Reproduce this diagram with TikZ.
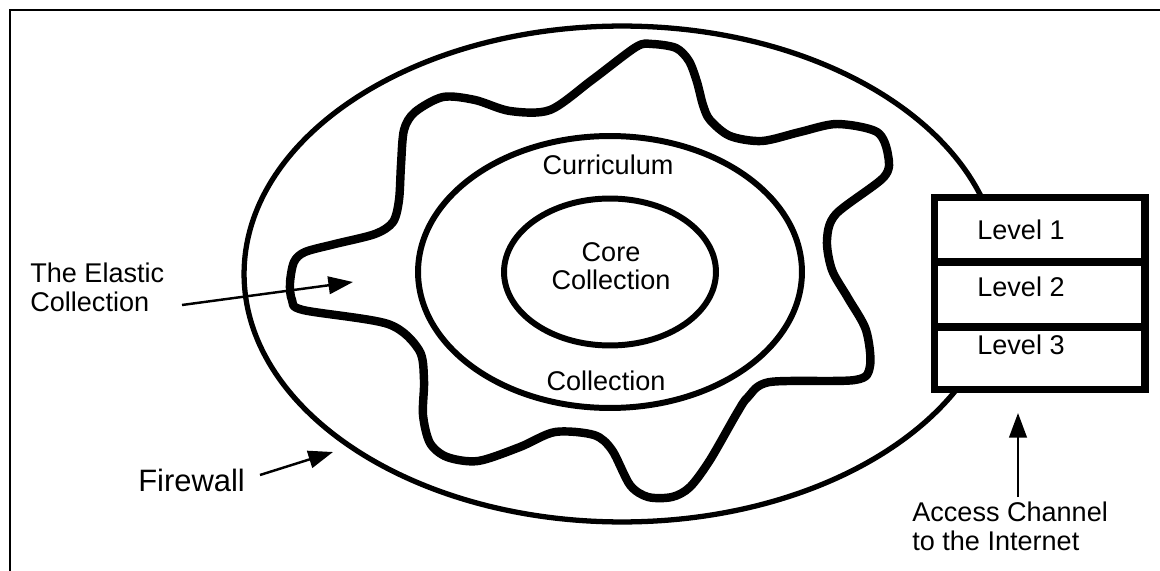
\documentclass[tikz,border=0pt]{standalone}
\usepackage{fontspec}
\setmainfont{Liberation Sans}
\usetikzlibrary{arrows.meta,shapes.geometric}
\tikzset{
  lbl/.style={font=\fontsize{15.4}{16}\selectfont, inner sep=0pt},
  ptr/.style={line width=1.4pt, -{Triangle[length=14pt,width=10pt]}},
  ring/.style={draw, ellipse, line width=3.4pt, inner sep=0pt},
  boxline/.style={line width=4pt},
}

\begin{document}
\begin{tikzpicture}[x=0.02cm, y=-0.02cm]
\useasboundingbox (0,0) rectangle (1160,571);
% frame
\draw[line width=1.2pt] (1160,10) -- (10,10) -- (10,571);

% firewall and collections
\node[ring, line width=3pt, minimum width=15.12cm, minimum height=9.92cm] (firewall) at (622,274) {};
\draw[line width=4.8pt, line join=round]
  plot[smooth cycle, tension=0.5] coordinates {
    (290,283) (294,262) (305,252) (335,244) (375,234) (393,222) (399,200)
    (401,165) (404,130) (415,112) (443,97) (475,100) (510,111) (550,110)
    (592,80) (636,47) (652,44) (676,48) (689,61) (697,82) (703,105)
    (710,120) (730,136) (762,141) (800,132) (837,124) (877,132) (888,155)
    (884,177) (836,214) (827,240) (832,270) (848,298) (866,330) (870,366)
    (855,380) (770,382) (748,397) (737,413) (710,460) (690,487) (672,497)
    (648,497) (630,485) (612,450) (594,435) (555,432) (520,447) (478,461)
    (447,457) (430,443) (423,415) (424,380) (419,350) (388,324) (303,310)
    (292,300)};
\node[ring, minimum width=7.68cm, minimum height=5.44cm] (curriculum) at (610,272) {};
\node[ring, minimum width=4.24cm, minimum height=2.94cm] (core) at (610,272) {};

\node[lbl, anchor=base] (curlabel) at (608,174) {Curriculum};
\node[lbl, anchor=base] (collabel) at (606,390) {Collection};
\node[lbl, align=center, anchor=north] (corelabel) at (611,242) {Core\\Collection};

% access levels
\node[draw, fill=white, boxline, minimum width=4.22cm, minimum height=3.86cm, inner sep=0pt] (access) at (1039.5,293.5) {};
\draw[boxline] (934,262) -- (1148,262);
\draw[boxline] (934,327) -- (1148,327);
\node[lbl, anchor=base west] (lvlone) at (977,239) {Level 1};
\node[lbl, anchor=base west] (lvltwo) at (977,296) {Level 2};
\node[lbl, anchor=base west] (lvlthree) at (977,354) {Level 3};

% labels and pointers
\node[lbl, align=left, anchor=north west] (elastic) at (30,263) {The Elastic\\Collection};
\node[lbl, font=\fontsize{17.6}{20}\selectfont, anchor=base west] (fire) at (138,491) {Firewall};
\node[lbl, align=left, anchor=north west] (channel) at (912,502) {Access Channel\\to the Internet};

\coordinate (elasticfrom) at (182,305);
\coordinate (elasticto) at (353,282);
\coordinate (firefrom) at (260,475);
\coordinate (fireto) at (333,452);
\coordinate (channelfrom) at (1018,497);
\coordinate (channelto) at (1018,413);
\draw[ptr] (elasticfrom) -- (elasticto);
\draw[ptr] (firefrom) -- (fireto);
\draw[ptr] (channelfrom) -- (channelto);
\end{tikzpicture}
\end{document}
